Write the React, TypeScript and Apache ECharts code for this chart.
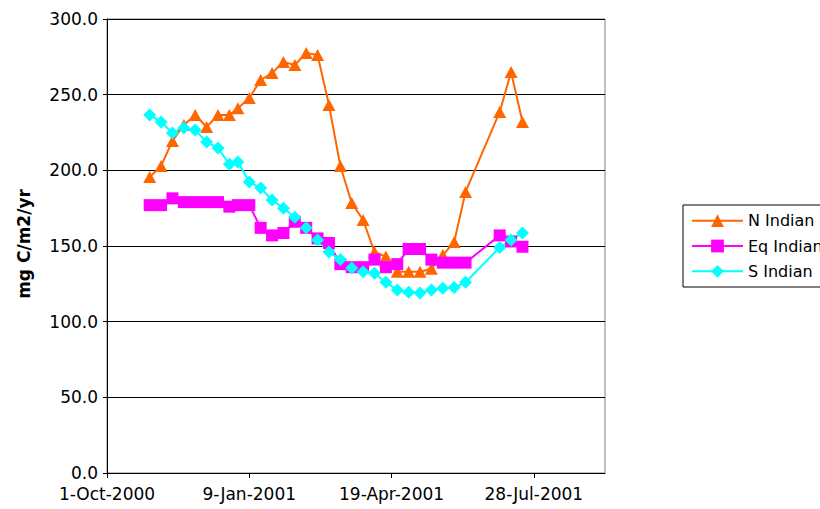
import React, { useEffect, useRef } from "react";
import * as echarts from "echarts";

// 8-day composite start dates (shared by all series)
const dates: string[] = [
  "2000-10-31", "2000-11-08", "2000-11-16", "2000-11-24", "2000-12-02", "2000-12-10",
  "2000-12-18", "2000-12-26", "2001-01-01", "2001-01-09", "2001-01-17", "2001-01-25",
  "2001-02-02", "2001-02-10", "2001-02-18", "2001-02-26", "2001-03-06", "2001-03-14",
  "2001-03-22", "2001-03-30", "2001-04-07", "2001-04-15", "2001-04-23", "2001-05-01",
  "2001-05-09", "2001-05-17", "2001-05-25", "2001-06-02", "2001-06-10", "2001-07-04",
  "2001-07-12", "2001-07-20",
];

const nIndian: number[] = [
  195.6, 202.9, 219.4, 230, 236.6, 228.6, 236.6, 236.6, 241, 247.8, 259.7, 264.3,
  271.6, 269.6, 277.5, 276.2, 243.2, 202.9, 178.4, 167.2, 146, 143, 133, 133,
  133, 135, 144, 152.6, 185.7, 238.6, 265, 232,
];

const eqIndian: number[] = [
  177, 177, 181.5, 179, 179, 179, 179, 176, 177, 177, 162, 157,
  158.6, 166, 162, 155, 152, 138, 136, 136, 141, 136, 138, 148,
  148, 141, 139, 139, 139, 157, 153, 149.5,
];

const sIndian: number[] = [
  236.6, 232, 224.7, 228, 226.6, 218.7, 214.8, 204, 205.5, 192.3, 188.3, 180.4,
  175, 169, 162, 154, 146, 141, 135.5, 133, 132, 126, 121, 119.5,
  119, 121, 122, 122.5, 126, 149, 154, 158.6,
];

const seriesNames: string[] = ["N Indian", "Eq Indian", "S Indian"];
const yTicks: number[] = [0, 50, 100, 150, 200, 250, 300];
const xAxisStart = "2000-10-01";
const xAxisEnd = "2001-09-16";
const xTickDays = 100;

const MONTHS = ["Jan", "Feb", "Mar", "Apr", "May", "Jun", "Jul", "Aug", "Sep", "Oct", "Nov", "Dec"];

// Excel-style serial date
function toSerial(s: string): number {
  const t = Date.parse(s + "T00:00:00Z");
  return Math.round(t / 86400000) + 25569;
}
function fmtSerial(v: number): string {
  const d = new Date((v - 25569) * 86400000);
  return `${d.getUTCDate()}-${MONTHS[d.getUTCMonth()]}-${d.getUTCFullYear()}`;
}

const FONT = "DejaVu Sans";

export default function App() {
  const ref = useRef<HTMLDivElement>(null);
  useEffect(() => {
    if (!ref.current) return;
    const chart = echarts.init(ref.current, null, { renderer: "svg" });
    const xs = dates.map(toSerial);
    const mk = (vals: number[]) => xs.map((x, i) => [x, vals[i]]);
    const colors = ["#FF6600", "#FF00FF", "#00FFFF"];
    const symbols = ["triangle", "rect", "diamond"];
    const sizes: any[] = [[13, 12], 12, 13];
    const vals = [nIndian, eqIndian, sIndian];
    chart.setOption({
      animation: false,
      backgroundColor: "#fff",
      grid: {
        left: 107,
        top: 19,
        right: 215,
        bottom: 36,
        show: true,
        borderColor: "#808080",
        borderWidth: 1,
        backgroundColor: "transparent",
      },
      legend: {
        orient: "vertical",
        left: 683,
        top: 205,
        padding: [7.7, 8, 7.7, 8],
        itemGap: 9.3,
        itemWidth: 51,
        itemHeight: 16,
        borderColor: "#000",
        borderWidth: 1,
        data: seriesNames,
        textStyle: { fontSize: 16, fontFamily: FONT, color: "#000", lineHeight: 16 },
      },
      xAxis: {
        type: "value",
        min: toSerial(xAxisStart),
        max: toSerial(xAxisEnd),
        interval: xTickDays,
        axisLine: { show: true, lineStyle: { color: "#000", width: 1 } },
        axisTick: { show: true, length: 5, lineStyle: { color: "#000" } },
        splitLine: { show: false },
        axisLabel: {
          formatter: (v: number) => fmtSerial(v),
          fontSize: 17,
          fontFamily: FONT,
          color: "#000",
          margin: 12,
          showMaxLabel: false,
        },
      },
      yAxis: {
        type: "value",
        min: yTicks[0],
        max: yTicks[yTicks.length - 1],
        interval: 50,
        axisLine: { show: true, lineStyle: { color: "#000", width: 1 } },
        axisTick: { show: true, length: 4, lineStyle: { color: "#000" } },
        splitLine: { show: true, lineStyle: { color: "#000", width: 1 } },
        axisLabel: {
          formatter: (v: number) => v.toFixed(1),
          fontSize: 17,
          fontFamily: FONT,
          color: "#000",
          margin: 9,
        },
      },
      graphic: [
        {
          type: "text",
          x: 24,
          y: 244,
          rotation: Math.PI / 2,
          style: {
            text: "mg C/m2/yr",
            font: `bold 17px "${FONT}"`,
            fill: "#000",
            align: "center",
            verticalAlign: "middle",
          },
        },
      ],
      series: seriesNames.map((name, i) => ({
        name,
        type: "line",
        data: mk(vals[i]),
        symbol: symbols[i],
        symbolSize: sizes[i],
        showAllSymbol: true,
        lineStyle: { color: colors[i], width: 2 },
        itemStyle: { color: colors[i], borderWidth: 0 },
        emphasis: { disabled: true },
      })),
    });
    return () => chart.dispose();
  }, []);
  return (
    <div
      ref={ref}
      style={{ position: "absolute", left: 0, top: 0, width: 820, height: 509 }}
    />
  );
}
